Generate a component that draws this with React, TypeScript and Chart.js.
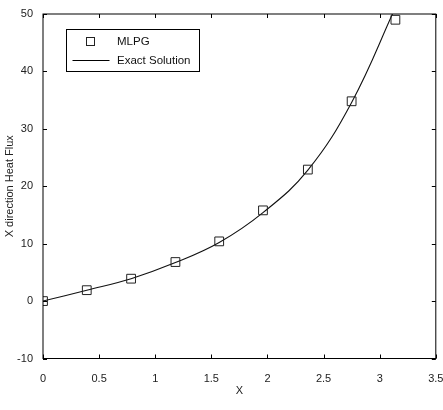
import React, { useEffect, useRef } from "react";
import { Chart, registerables, Plugin } from "chart.js";

Chart.register(...registerables);

// MLPG nodes (x = k*pi/8)
const mlpgX = [0, 0.39, 0.785, 1.18, 1.57, 1.96, 2.36, 2.75, 3.14];
const mlpgY = [0, 1.9, 3.9, 6.8, 10.4, 15.8, 22.9, 34.8, 49.0];

// exact solution
const exactX = [0, 0.39, 0.785, 1.18, 1.57, 1.96, 2.36, 2.75, 3.1416];
const exactY = [0, 1.9, 3.9, 6.7, 10.2, 15.4, 22.8, 34.6, 51.2];

const xTicks = [0, 0.5, 1, 1.5, 2, 2.5, 3, 3.5];
const yTicks = [-10, 0, 10, 20, 30, 40, 50];

const FONT = "'Liberation Sans', Arial, sans-serif";

const framePlugin: Plugin<"scatter"> = {
  id: "frame",
  afterDatasetsDraw(chart) {
    const { ctx, chartArea: a, scales } = chart;
    const xs = scales.x;
    const ys = scales.y;
    ctx.save();
    ctx.strokeStyle = "#000";
    ctx.lineWidth = 1;
    ctx.strokeRect(a.left, a.top, a.right - a.left, a.bottom - a.top);
    const t = 4;
    ctx.beginPath();
    xTicks.forEach((v) => {
      const px = Math.round(xs.getPixelForValue(v)) + 0.5;
      ctx.moveTo(px, a.bottom);
      ctx.lineTo(px, a.bottom - t);
      ctx.moveTo(px, a.top);
      ctx.lineTo(px, a.top + t);
    });
    yTicks.forEach((v) => {
      const py = Math.round(ys.getPixelForValue(v)) + 0.5;
      ctx.moveTo(a.left, py);
      ctx.lineTo(a.left + t, py);
      ctx.moveTo(a.right, py);
      ctx.lineTo(a.right - t, py);
    });
    ctx.stroke();

    // legend box
    ctx.strokeRect(66.5, 29.5, 133, 42);
    ctx.strokeStyle = "#222";
    ctx.strokeRect(86.5, 37.5, 8, 8);
    ctx.beginPath();
    ctx.moveTo(72.5, 60.5);
    ctx.lineTo(109.5, 60.5);
    ctx.strokeStyle = "#000";
    ctx.stroke();
    ctx.fillStyle = "#111";
    ctx.font = `11.5px ${FONT}`;
    ctx.textBaseline = "middle";
    ctx.textAlign = "left";
    ctx.fillText("MLPG", 117, 41.5);
    ctx.fillText("Exact Solution", 117, 61);
    ctx.restore();
  },
};

const App: React.FC = () => {
  const canvasRef = useRef<HTMLCanvasElement | null>(null);

  useEffect(() => {
    const ctx = canvasRef.current?.getContext("2d");
    if (!ctx) return;
    const chart = new Chart(ctx, {
      type: "scatter",
      data: {
        datasets: [
          {
            label: "MLPG",
            data: mlpgX.map((x, i) => ({ x, y: mlpgY[i] })),
            pointStyle: "rect",
            pointRadius: 6.2,
            pointBorderWidth: 1,
            pointBorderColor: "#222",
            pointBackgroundColor: "rgba(0,0,0,0)",
            showLine: false,
          },
          {
            label: "Exact Solution",
            data: exactX.map((x, i) => ({ x, y: exactY[i] })),
            showLine: true,
            borderColor: "#111",
            borderWidth: 1.1,
            pointRadius: 0,
            tension: 0.4,
          },
        ],
      },
      options: {
        animation: false,
        responsive: false,
        layout: { padding: { top: 14, right: 7, bottom: 12, left: 0 } },
        plugins: { legend: { display: false }, tooltip: { enabled: false } },
        scales: {
          x: {
            type: "linear",
            min: 0,
            max: 3.5,
            afterBuildTicks: (s) => {
              s.ticks = xTicks.map((v) => ({ value: v }));
            },
            afterFit: (s) => {
              s.height = 39.5;
              s.paddingLeft = 0;
              s.paddingRight = 0;
            },
            grid: { display: false },
            border: { display: false },
            ticks: {
              autoSkip: false,
              maxRotation: 0,
              padding: 6,
              color: "#222",
              font: { family: FONT, size: 11 },
              callback: (v) => String(v),
            },
            title: {
              display: true,
              text: "X",
              color: "#222",
              font: { family: FONT, size: 11 },
              padding: 0,
            },
          },
          y: {
            type: "linear",
            min: -10,
            max: 50,
            afterBuildTicks: (s) => {
              s.ticks = yTicks.map((v) => ({ value: v }));
            },
            afterFit: (s) => {
              s.width = 43;
              s.paddingTop = 0;
              s.paddingBottom = 0;
            },
            grid: { display: false },
            border: { display: false },
            ticks: {
              autoSkip: false,
              padding: 2,
              color: "#222",
              font: { family: FONT, size: 11 },
              callback: (v) => String(v),
            },
            title: {
              display: true,
              text: "X direction Heat Flux",
              color: "#222",
              font: { family: FONT, size: 11 },
              padding: { top: 3, bottom: 0 },
            },
          },
        },
      },
      plugins: [framePlugin],
    });
    return () => {
      chart.destroy();
    };
  }, []);

  return (
    <div style={{ position: "fixed", left: 0, top: 0, width: 443, height: 410, background: "#fff" }}>
      <canvas ref={canvasRef} width={443} height={410} />
    </div>
  );
};

export default App;
